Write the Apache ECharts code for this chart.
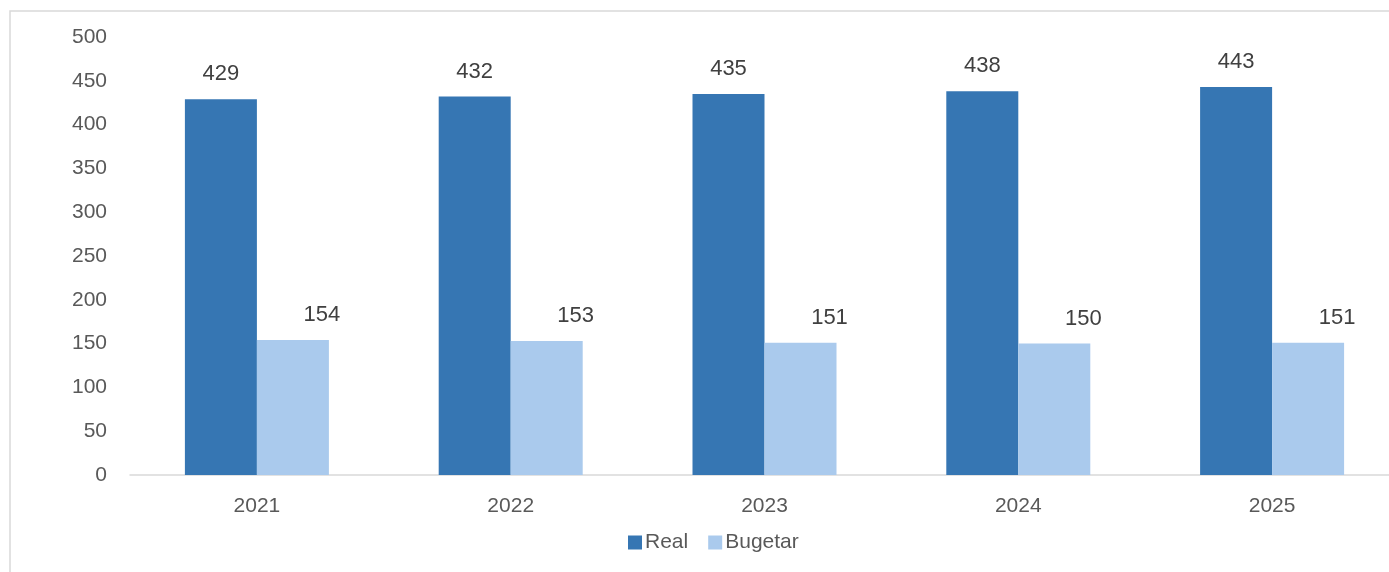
<!DOCTYPE html>
<html>
<head>
<meta charset="utf-8">
<script src="https://cdn.jsdelivr.net/npm/echarts@6/dist/echarts.min.js"></script>
<style>
html,body{margin:0;padding:0;background:#fff;}
#chart{width:1389px;height:572px;}
</style>
</head>
<body>
<div id="chart"></div>
<script>
const categories = ['2021', '2022', '2023', '2024', '2025'];
const realValues = [429, 432, 435, 438, 443];
const bugetarValues = [154, 153, 151, 150, 151];
const yTicks = [0, 50, 100, 150, 200, 250, 300, 350, 400, 450, 500];

const FONT = '"Liberation Sans", Arial, sans-serif';
const chart = echarts.init(document.getElementById('chart'), null, {renderer: 'canvas'});
chart.setOption({
  animation: false,
  backgroundColor: '#ffffff',
  graphic: [{
    type: 'rect',
    shape: {x: 10, y: 11, width: 1420, height: 620},
    style: {fill: 'none', stroke: '#d9d9d9', lineWidth: 1.5},
    silent: true, z: -1
  }],
  grid: {left: 130, width: 1269, top: 37, bottom: 97, containLabel: false, outerBoundsMode: 'none'},
  legend: {
    left: 623, top: 527,
    itemWidth: 14, itemHeight: 14, itemGap: 20,
    icon: 'rect',
    textStyle: {fontFamily: FONT, fontSize: 21, color: '#595959', padding: [0, 0, 0, -2]},
    data: ['Real', 'Bugetar']
  },
  xAxis: {
    type: 'category',
    data: categories,
    axisLine: {show: true, lineStyle: {color: '#d9d9d9', width: 1.5}},
    axisTick: {show: false},
    axisLabel: {fontFamily: FONT, fontSize: 21, color: '#595959', margin: 21}
  },
  yAxis: {
    type: 'value',
    min: yTicks[0], max: yTicks[yTicks.length - 1], interval: 50,
    axisLine: {show: false},
    axisTick: {show: false},
    splitLine: {show: false},
    axisLabel: {fontFamily: FONT, fontSize: 21, color: '#595959', margin: 23}
  },
  series: [
    {
      name: 'Real', type: 'bar', data: realValues,
      barWidth: 72, barGap: '0%',
      itemStyle: {color: '#3676B3'},
      label: {show: true, position: 'top', distance: 14, fontFamily: FONT, fontSize: 22, color: '#404040'}
    },
    {
      name: 'Bugetar', type: 'bar', data: bugetarValues,
      barWidth: 72,
      itemStyle: {color: '#AACAED'},
      label: {show: true, position: 'top', distance: 14, offset: [29, 0], fontFamily: FONT, fontSize: 22, color: '#404040'}
    }
  ]
});
</script>
</body>
</html>
